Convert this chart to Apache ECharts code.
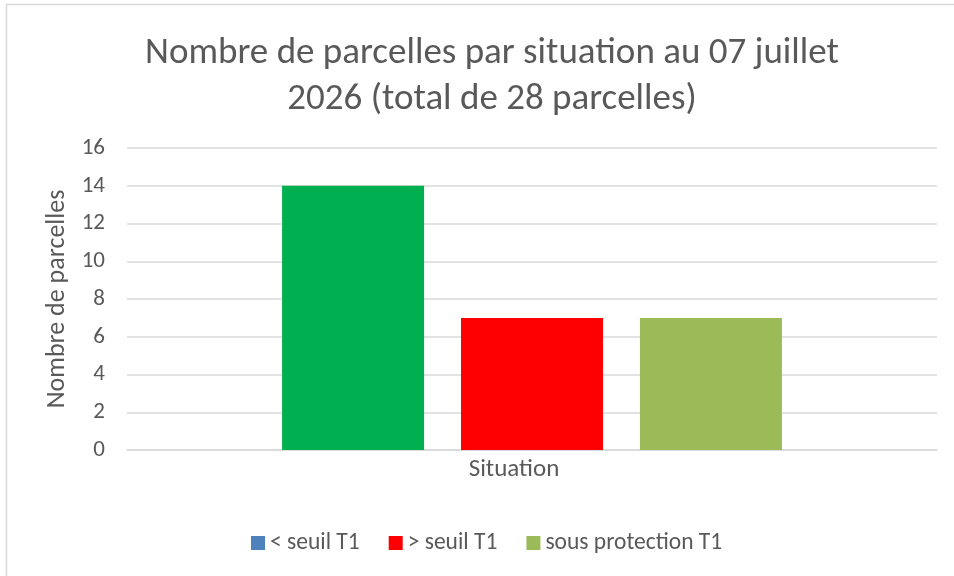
<!DOCTYPE html>
<html>
<head>
<meta charset="utf-8">
<script src="https://cdn.jsdelivr.net/npm/echarts@6/dist/echarts.min.js"></script>
<style>
  html, body { margin: 0; padding: 0; background: #fff; }
  #chart { width: 954px; height: 576px; }
</style>
</head>
<body>
<div id="chart"></div>
<script>
const categories = ['Situation']
const seriesNames = ['< seuil T1', '> seuil T1', 'sous protection T1']
const seriesValues = [[14], [7], [7]]
const barColors = ['#00B050', '#FF0000', '#9BBB59']
const legendColors = ['#4F81BD', '#FF0000', '#9BBB59']
const yTicks = { min: 0, max: 16, interval: 2 }

const font = 'Carlito, Calibri, "Open Sans", sans-serif'
const chart = echarts.init(document.getElementById('chart'))

const options = {
  backgroundColor: '#fff',
  animation: false,
  title: {
    text: 'Nombre de parcelles par situation au 07 juillet\n2026 (total de 28 parcelles)',
    left: 487,
    top: 26,
    textAlign: 'center',
    textStyle: {
      fontFamily: font,
      fontWeight: 'normal',
      fontSize: 37,
      lineHeight: 46,
      color: '#595959',
    },
  },
  graphic: [
    {
      type: 'rect',
      shape: { x: 6.5, y: 4.5, width: 1000, height: 700 },
      style: { fill: 'none', stroke: '#d9d9d9', lineWidth: 1.5 },
      silent: true,
    },
  ],
  grid: {
    left: 127,
    right: 17,
    top: 148,
    bottom: 126,
  },
  legend: {
    bottom: 16,
    left: 246,
    itemWidth: 14,
    itemHeight: 14,
    itemGap: 29,
    icon: 'rect',
    textStyle: { fontFamily: font, fontSize: 23.5, color: '#595959' },
    data: seriesNames.map((n, i) => ({ name: n, itemStyle: { color: legendColors[i] } })),
  },
  xAxis: {
    type: 'category',
    data: categories,
    axisLine: { lineStyle: { color: '#d9d9d9', width: 1.5 } },
    axisTick: { show: false },
    axisLabel: {
      fontFamily: font,
      fontSize: 25,
      color: '#595959',
      margin: 7,
      padding: [0, 36, 0, 0],
    },
  },
  yAxis: {
    type: 'value',
    min: yTicks.min,
    max: yTicks.max,
    interval: yTicks.interval,
    name: 'Nombre de parcelles',
    nameLocation: 'middle',
    nameGap: 56,
    nameTextStyle: { fontFamily: font, fontSize: 26, color: '#595959' },
    axisLine: { show: false },
    axisTick: { show: false },
    axisLabel: { fontFamily: font, fontSize: 23, color: '#595959', margin: 22 },
    splitLine: { lineStyle: { color: '#d9d9d9', width: 1.5 } },
  },
  series: seriesNames.map((n, i) => ({
    name: n,
    type: 'bar',
    data: seriesValues[i],
    barWidth: 142,
    barGap: '26%',
    itemStyle: { color: barColors[i] },
  })),
}

chart.setOption(options)
</script>
</body>
</html>
